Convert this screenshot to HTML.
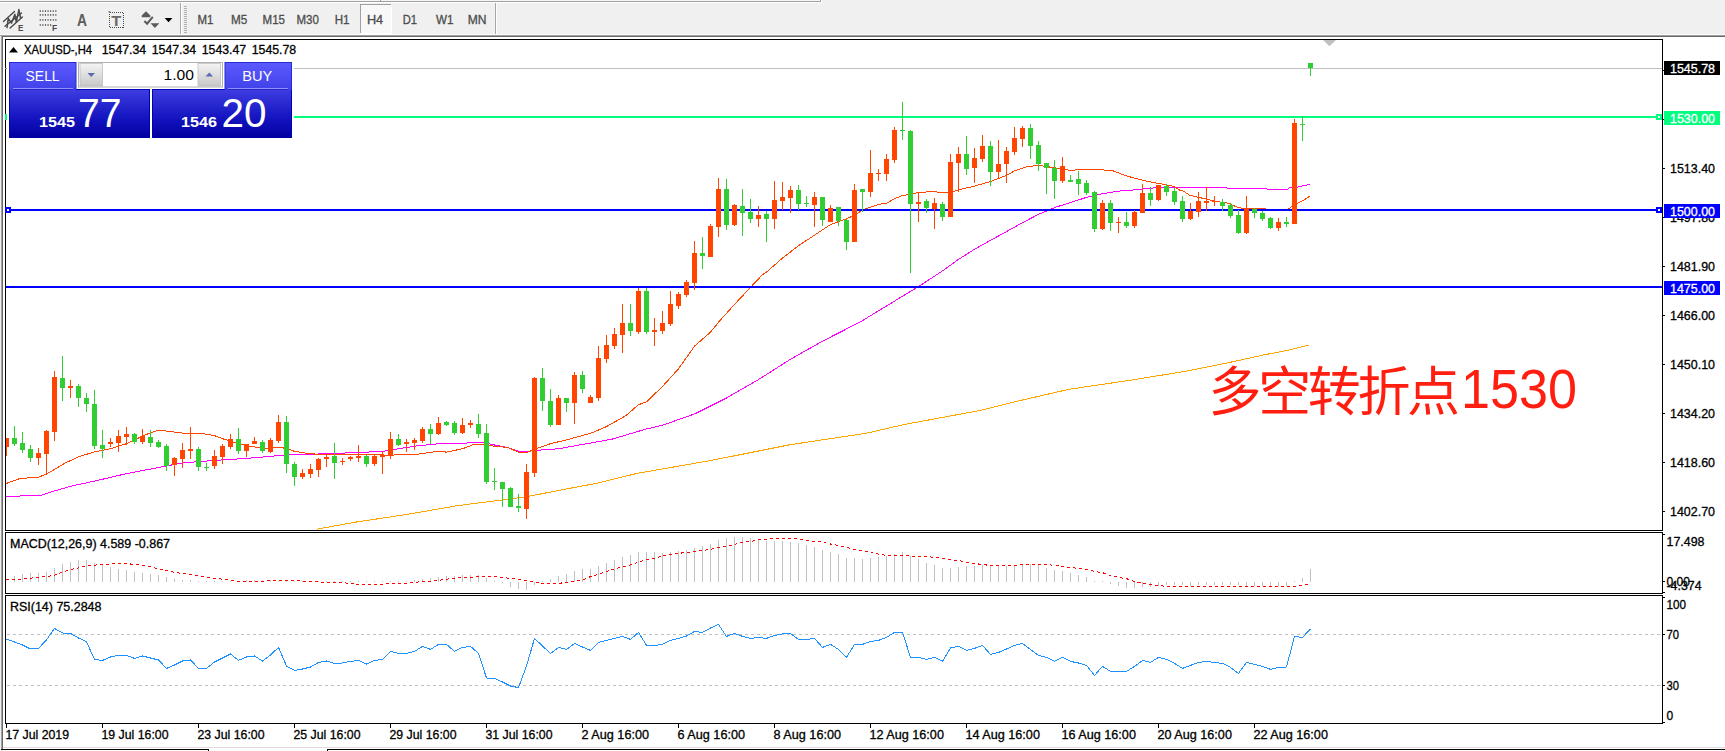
<!DOCTYPE html>
<html lang="zh"><head><meta charset="utf-8"><title>XAUUSD H4</title>
<style>html,body{margin:0;padding:0;background:#f0f0f0;overflow:hidden}svg{display:block}text{white-space:pre}</style></head>
<body><svg width="1725" height="751" viewBox="0 0 1725 751" font-family="'Liberation Sans', sans-serif" font-size="12">
<rect x="0" y="0" width="1725" height="751" fill="#f0f0f0" />
<rect x="0" y="0" width="820" height="1" fill="#f6f6f6" />
<rect x="0" y="1" width="821" height="1" fill="#a0a0a0" />
<rect x="820" y="0" width="1" height="2" fill="#a0a0a0" />
<rect x="0" y="2" width="822" height="1" fill="#ffffff" />
<rect x="821" y="0" width="1" height="3" fill="#ffffff" />
<rect x="380" y="0" width="1" height="1" fill="#a0a0a0" />
<rect x="3" y="37" width="1722" height="714" fill="#ffffff" />
<rect x="0" y="34" width="1725" height="1" fill="#fbfbfb" />
<rect x="0" y="35" width="1725" height="1" fill="#a0a0a0" />
<rect x="1" y="36" width="1725" height="1" fill="#696969" />
<rect x="1" y="36" width="1" height="713" fill="#a0a0a0" />
<rect x="2" y="37" width="1" height="712" fill="#696969" />
<rect x="0" y="36" width="1" height="715" fill="#f0f0f0" />
<rect x="3" y="747" width="1725" height="1" fill="#dcdcdc" />
<rect x="1" y="749" width="208" height="1" fill="#000" />
<rect x="208" y="749" width="1" height="2" fill="#000" />
<rect x="327" y="749" width="1398" height="1" fill="#000" />
<rect x="327" y="749" width="1" height="2" fill="#000" />
<g shape-rendering="crispEdges">
<rect x="5" y="39" width="1658" height="1" fill="#000" />
<rect x="5" y="530" width="1658" height="1" fill="#000" />
<rect x="5" y="39" width="1" height="492" fill="#000" />
<rect x="1662" y="39" width="1" height="492" fill="#000" />
<rect x="5" y="532" width="1658" height="1" fill="#000" />
<rect x="5" y="593" width="1658" height="1" fill="#000" />
<rect x="5" y="532" width="1" height="62" fill="#000" />
<rect x="1662" y="532" width="1" height="62" fill="#000" />
<rect x="5" y="595" width="1658" height="1" fill="#000" />
<rect x="5" y="723" width="1658" height="1" fill="#000" />
<rect x="5" y="595" width="1" height="129" fill="#000" />
<rect x="1662" y="595" width="1" height="129" fill="#000" />
<line x1="7" y1="634.5" x2="1662" y2="634.5" stroke="#c0c0c0" stroke-width="1" stroke-dasharray="3 3"/>
<line x1="7" y1="685.5" x2="1662" y2="685.5" stroke="#c0c0c0" stroke-width="1" stroke-dasharray="3 3"/>
<rect x="14" y="576" width="1" height="6" fill="#c0c0c0" />
<rect x="22" y="574" width="1" height="8" fill="#c0c0c0" />
<rect x="30" y="573" width="1" height="9" fill="#c0c0c0" />
<rect x="38" y="573" width="1" height="9" fill="#c0c0c0" />
<rect x="46" y="572" width="1" height="10" fill="#c0c0c0" />
<rect x="54" y="568" width="1" height="14" fill="#c0c0c0" />
<rect x="62" y="564" width="1" height="18" fill="#c0c0c0" />
<rect x="70" y="562" width="1" height="20" fill="#c0c0c0" />
<rect x="78" y="560" width="1" height="22" fill="#c0c0c0" />
<rect x="86" y="560" width="1" height="22" fill="#c0c0c0" />
<rect x="94" y="563" width="1" height="19" fill="#c0c0c0" />
<rect x="102" y="565" width="1" height="17" fill="#c0c0c0" />
<rect x="110" y="567" width="1" height="15" fill="#c0c0c0" />
<rect x="118" y="569" width="1" height="13" fill="#c0c0c0" />
<rect x="126" y="570" width="1" height="12" fill="#c0c0c0" />
<rect x="134" y="572" width="1" height="10" fill="#c0c0c0" />
<rect x="142" y="573" width="1" height="9" fill="#c0c0c0" />
<rect x="150" y="574" width="1" height="8" fill="#c0c0c0" />
<rect x="158" y="575" width="1" height="7" fill="#c0c0c0" />
<rect x="166" y="577" width="1" height="5" fill="#c0c0c0" />
<rect x="174" y="579" width="1" height="3" fill="#c0c0c0" />
<rect x="182" y="580" width="1" height="2" fill="#c0c0c0" />
<rect x="190" y="580" width="1" height="2" fill="#c0c0c0" />
<rect x="198" y="581" width="1" height="1" fill="#c0c0c0" />
<rect x="206" y="581" width="1" height="1" fill="#c0c0c0" />
<rect x="214" y="581" width="1" height="1" fill="#c0c0c0" />
<rect x="222" y="581" width="1" height="1" fill="#c0c0c0" />
<rect x="230" y="581" width="1" height="1" fill="#c0c0c0" />
<rect x="238" y="581" width="1" height="1" fill="#c0c0c0" />
<rect x="246" y="580" width="1" height="2" fill="#c0c0c0" />
<rect x="254" y="580" width="1" height="2" fill="#c0c0c0" />
<rect x="262" y="580" width="1" height="2" fill="#c0c0c0" />
<rect x="270" y="580" width="1" height="2" fill="#c0c0c0" />
<rect x="278" y="581" width="1" height="1" fill="#c0c0c0" />
<rect x="286" y="581" width="1" height="1" fill="#c0c0c0" />
<rect x="294" y="581" width="1" height="1" fill="#c0c0c0" />
<rect x="302" y="581" width="1" height="1" fill="#c0c0c0" />
<rect x="310" y="581" width="1" height="1" fill="#c0c0c0" />
<rect x="318" y="581" width="1" height="1" fill="#c0c0c0" />
<rect x="326" y="581" width="1" height="1" fill="#c0c0c0" />
<rect x="334" y="581" width="1" height="1" fill="#c0c0c0" />
<rect x="342" y="581" width="1" height="1" fill="#c0c0c0" />
<rect x="350" y="581" width="1" height="1" fill="#c0c0c0" />
<rect x="358" y="581" width="1" height="1" fill="#c0c0c0" />
<rect x="366" y="581" width="1" height="1" fill="#c0c0c0" />
<rect x="374" y="581" width="1" height="1" fill="#c0c0c0" />
<rect x="382" y="581" width="1" height="1" fill="#c0c0c0" />
<rect x="390" y="581" width="1" height="1" fill="#c0c0c0" />
<rect x="398" y="581" width="1" height="1" fill="#c0c0c0" />
<rect x="406" y="581" width="1" height="1" fill="#c0c0c0" />
<rect x="414" y="580" width="1" height="2" fill="#c0c0c0" />
<rect x="422" y="579" width="1" height="3" fill="#c0c0c0" />
<rect x="430" y="578" width="1" height="4" fill="#c0c0c0" />
<rect x="438" y="577" width="1" height="5" fill="#c0c0c0" />
<rect x="446" y="576" width="1" height="6" fill="#c0c0c0" />
<rect x="454" y="576" width="1" height="6" fill="#c0c0c0" />
<rect x="462" y="575" width="1" height="7" fill="#c0c0c0" />
<rect x="470" y="575" width="1" height="7" fill="#c0c0c0" />
<rect x="478" y="575" width="1" height="7" fill="#c0c0c0" />
<rect x="486" y="578" width="1" height="4" fill="#c0c0c0" />
<rect x="494" y="581" width="1" height="1" fill="#c0c0c0" />
<rect x="502" y="582" width="1" height="1" fill="#c0c0c0" />
<rect x="510" y="582" width="1" height="5" fill="#c0c0c0" />
<rect x="518" y="582" width="1" height="7" fill="#c0c0c0" />
<rect x="526" y="582" width="1" height="8" fill="#c0c0c0" />
<rect x="534" y="582" width="1" height="3" fill="#c0c0c0" />
<rect x="542" y="581" width="1" height="1" fill="#c0c0c0" />
<rect x="550" y="579" width="1" height="3" fill="#c0c0c0" />
<rect x="558" y="576" width="1" height="6" fill="#c0c0c0" />
<rect x="566" y="574" width="1" height="8" fill="#c0c0c0" />
<rect x="574" y="571" width="1" height="11" fill="#c0c0c0" />
<rect x="582" y="569" width="1" height="13" fill="#c0c0c0" />
<rect x="590" y="569" width="1" height="13" fill="#c0c0c0" />
<rect x="598" y="566" width="1" height="16" fill="#c0c0c0" />
<rect x="606" y="563" width="1" height="19" fill="#c0c0c0" />
<rect x="614" y="560" width="1" height="22" fill="#c0c0c0" />
<rect x="622" y="557" width="1" height="25" fill="#c0c0c0" />
<rect x="630" y="555" width="1" height="27" fill="#c0c0c0" />
<rect x="638" y="552" width="1" height="30" fill="#c0c0c0" />
<rect x="646" y="552" width="1" height="30" fill="#c0c0c0" />
<rect x="654" y="552" width="1" height="30" fill="#c0c0c0" />
<rect x="662" y="553" width="1" height="29" fill="#c0c0c0" />
<rect x="670" y="552" width="1" height="30" fill="#c0c0c0" />
<rect x="678" y="551" width="1" height="31" fill="#c0c0c0" />
<rect x="686" y="550" width="1" height="32" fill="#c0c0c0" />
<rect x="694" y="548" width="1" height="34" fill="#c0c0c0" />
<rect x="702" y="546" width="1" height="36" fill="#c0c0c0" />
<rect x="710" y="544" width="1" height="38" fill="#c0c0c0" />
<rect x="718" y="540" width="1" height="42" fill="#c0c0c0" />
<rect x="726" y="538" width="1" height="44" fill="#c0c0c0" />
<rect x="734" y="537" width="1" height="45" fill="#c0c0c0" />
<rect x="742" y="537" width="1" height="45" fill="#c0c0c0" />
<rect x="750" y="538" width="1" height="44" fill="#c0c0c0" />
<rect x="758" y="539" width="1" height="43" fill="#c0c0c0" />
<rect x="766" y="541" width="1" height="41" fill="#c0c0c0" />
<rect x="774" y="541" width="1" height="41" fill="#c0c0c0" />
<rect x="782" y="541" width="1" height="41" fill="#c0c0c0" />
<rect x="790" y="542" width="1" height="40" fill="#c0c0c0" />
<rect x="798" y="543" width="1" height="39" fill="#c0c0c0" />
<rect x="806" y="545" width="1" height="37" fill="#c0c0c0" />
<rect x="814" y="547" width="1" height="35" fill="#c0c0c0" />
<rect x="822" y="550" width="1" height="32" fill="#c0c0c0" />
<rect x="830" y="552" width="1" height="30" fill="#c0c0c0" />
<rect x="838" y="554" width="1" height="28" fill="#c0c0c0" />
<rect x="846" y="558" width="1" height="24" fill="#c0c0c0" />
<rect x="854" y="558" width="1" height="24" fill="#c0c0c0" />
<rect x="862" y="559" width="1" height="23" fill="#c0c0c0" />
<rect x="870" y="558" width="1" height="24" fill="#c0c0c0" />
<rect x="878" y="557" width="1" height="25" fill="#c0c0c0" />
<rect x="886" y="556" width="1" height="26" fill="#c0c0c0" />
<rect x="894" y="554" width="1" height="28" fill="#c0c0c0" />
<rect x="902" y="552" width="1" height="30" fill="#c0c0c0" />
<rect x="910" y="556" width="1" height="26" fill="#c0c0c0" />
<rect x="918" y="559" width="1" height="23" fill="#c0c0c0" />
<rect x="926" y="563" width="1" height="19" fill="#c0c0c0" />
<rect x="934" y="565" width="1" height="17" fill="#c0c0c0" />
<rect x="942" y="568" width="1" height="14" fill="#c0c0c0" />
<rect x="950" y="568" width="1" height="14" fill="#c0c0c0" />
<rect x="958" y="567" width="1" height="15" fill="#c0c0c0" />
<rect x="966" y="566" width="1" height="16" fill="#c0c0c0" />
<rect x="974" y="566" width="1" height="16" fill="#c0c0c0" />
<rect x="982" y="565" width="1" height="17" fill="#c0c0c0" />
<rect x="990" y="566" width="1" height="16" fill="#c0c0c0" />
<rect x="998" y="566" width="1" height="16" fill="#c0c0c0" />
<rect x="1006" y="566" width="1" height="16" fill="#c0c0c0" />
<rect x="1014" y="566" width="1" height="16" fill="#c0c0c0" />
<rect x="1022" y="565" width="1" height="17" fill="#c0c0c0" />
<rect x="1030" y="564" width="1" height="18" fill="#c0c0c0" />
<rect x="1038" y="565" width="1" height="17" fill="#c0c0c0" />
<rect x="1046" y="568" width="1" height="14" fill="#c0c0c0" />
<rect x="1054" y="570" width="1" height="12" fill="#c0c0c0" />
<rect x="1062" y="571" width="1" height="11" fill="#c0c0c0" />
<rect x="1070" y="573" width="1" height="9" fill="#c0c0c0" />
<rect x="1078" y="575" width="1" height="7" fill="#c0c0c0" />
<rect x="1086" y="577" width="1" height="5" fill="#c0c0c0" />
<rect x="1094" y="581" width="1" height="1" fill="#c0c0c0" />
<rect x="1102" y="581" width="1" height="1" fill="#c0c0c0" />
<rect x="1110" y="582" width="1" height="2" fill="#c0c0c0" />
<rect x="1118" y="582" width="1" height="4" fill="#c0c0c0" />
<rect x="1126" y="582" width="1" height="6" fill="#c0c0c0" />
<rect x="1134" y="582" width="1" height="6" fill="#c0c0c0" />
<rect x="1142" y="582" width="1" height="5" fill="#c0c0c0" />
<rect x="1150" y="582" width="1" height="5" fill="#c0c0c0" />
<rect x="1158" y="582" width="1" height="4" fill="#c0c0c0" />
<rect x="1166" y="582" width="1" height="3" fill="#c0c0c0" />
<rect x="1174" y="582" width="1" height="3" fill="#c0c0c0" />
<rect x="1182" y="582" width="1" height="3" fill="#c0c0c0" />
<rect x="1190" y="582" width="1" height="4" fill="#c0c0c0" />
<rect x="1198" y="582" width="1" height="3" fill="#c0c0c0" />
<rect x="1206" y="582" width="1" height="3" fill="#c0c0c0" />
<rect x="1214" y="582" width="1" height="3" fill="#c0c0c0" />
<rect x="1222" y="582" width="1" height="3" fill="#c0c0c0" />
<rect x="1230" y="582" width="1" height="3" fill="#c0c0c0" />
<rect x="1238" y="582" width="1" height="3" fill="#c0c0c0" />
<rect x="1246" y="582" width="1" height="4" fill="#c0c0c0" />
<rect x="1254" y="582" width="1" height="4" fill="#c0c0c0" />
<rect x="1262" y="582" width="1" height="4" fill="#c0c0c0" />
<rect x="1270" y="582" width="1" height="5" fill="#c0c0c0" />
<rect x="1278" y="582" width="1" height="4" fill="#c0c0c0" />
<rect x="1286" y="582" width="1" height="4" fill="#c0c0c0" />
<rect x="1294" y="581" width="1" height="1" fill="#c0c0c0" />
<rect x="1302" y="578" width="1" height="4" fill="#c0c0c0" />
<rect x="1310" y="569" width="1" height="13" fill="#c0c0c0" />
</g>
<g shape-rendering="crispEdges">
<polyline points="316.7,529.2 355.9,522.1 406.5,514.5 457.1,505.7 502.6,499.9 526.4,496.8 558.2,490.5 598.3,483.0 636.5,473.5 713.0,460.1 789.6,444.8 866.1,433.3 904.3,424.5 980.9,410.3 1019.1,400.8 1068.9,389.3 1133.9,379.7 1187.5,370.9 1190.0,370.4 1226.5,363.1 1263.0,355.1 1292.3,349.3 1309.3,344.9" fill="none" stroke="#ffa500" stroke-width="1" />
<polyline points="5.6,496.6 41.7,495.1 54.4,491.0 70.8,486.2 94.6,481.1 126.5,473.6 158.6,467.5 182.4,462.9 214.5,460.4 246.4,458.4 270.4,456.4 280.0,455.3 310.4,454.3 334.4,453.3 358.4,452.6 382.4,451.3 390.5,450.5 398.4,448.8 414.6,446.2 438.6,443.7 462.4,443.2 482.4,442.4 494.5,445.0 507.7,447.5 518.5,451.3 527.9,451.3 534.5,450.5 558.2,448.8 611.9,439.2 646.0,429.1 662.4,425.3 694.6,413.9 726.4,398.0 758.6,379.5 790.4,359.3 822.6,341.1 860.0,322.1 922.3,284.2 942.6,270.8 958.5,259.4 974.4,249.3 990.4,240.4 1006.5,231.6 1022.5,222.7 1038.4,214.4 1054.6,207.6 1070.5,202.5 1086.5,197.4 1102.4,193.7 1118.6,191.1 1134.5,189.9 1150.5,188.1 1174.5,187.3 1186.0,187.5 1225.6,187.3 1228.0,188.5 1266.0,188.5 1268.0,189.6 1287.0,189.6 1289.0,188.0 1298.4,187.0 1304.0,185.6 1309.5,184.4" fill="none" stroke="#ff00ff" stroke-width="1" />
<polyline points="5.6,483.7 20.2,478.4 37.9,477.4 46.5,474.1 54.4,469.5 65.8,462.7 78.4,456.9 94.6,451.8 110.5,448.8 126.5,443.7 142.4,436.1 151.8,432.3 158.6,430.1 166.4,431.1 182.4,433.1 202.4,433.6 214.5,435.6 222.6,438.7 230.4,441.2 246.4,445.7 262.6,448.3 278.5,447.5 286.3,448.3 294.4,451.3 310.4,453.8 326.5,454.6 358.4,454.6 390.5,455.1 416.6,454.3 438.6,451.3 446.4,452.1 462.4,448.8 472.2,445.0 482.4,444.2 494.5,446.2 507.7,447.5 518.5,452.1 527.9,452.1 534.5,449.3 550.4,443.7 566.3,439.9 568.9,439.2 590.4,433.4 606.5,426.6 625.8,415.7 638.4,404.8 646.5,401.8 662.4,386.6 678.4,368.9 694.6,346.1 710.5,332.2 718.6,322.1 734.5,304.4 750.5,287.4 753.4,284.2 762.4,274.8 766.5,272.1 782.4,258.2 798.4,245.8 814.6,235.1 830.5,224.5 846.4,218.9 854.5,215.2 862.4,210.1 878.6,204.3 886.4,203.3 894.5,198.7 902.6,195.4 910.4,194.4 918.5,192.4 934.5,191.6 942.6,192.9 950.4,192.4 958.5,189.9 974.4,186.1 990.4,181.5 1006.5,175.4 1014.4,170.9 1025.8,167.1 1038.4,165.3 1054.6,167.8 1070.5,170.4 1086.5,169.1 1111.8,170.4 1126.4,175.9 1142.4,180.2 1158.6,183.5 1166.4,184.8 1174.5,186.6 1180.0,190.3 1182.6,190.6 1189.3,195.0 1198.6,197.3 1208.0,199.6 1217.3,201.5 1228.5,203.3 1237.8,207.5 1244.3,208.5 1264.8,208.5 1267.0,210.0 1286.0,210.0 1289.0,208.5 1291.8,206.6 1297.4,203.3 1304.0,200.1 1309.5,196.2" fill="none" stroke="#ff4500" stroke-width="1" />
<rect x="294" y="68" width="1368" height="1" fill="#c0c0c0" />
<rect x="5" y="68" width="2" height="1" fill="#909090" />
<rect x="5" y="114" width="2" height="6" fill="#00ff7f" />
<rect x="294" y="116" width="1368" height="2" fill="#00ff7f" />
<rect x="6" y="209" width="1656" height="2" fill="#0000ff" />
<rect x="6" y="286" width="1656" height="2" fill="#0000ff" />
<rect x="6" y="438" width="1" height="18" fill="#ff4500" />
<rect x="6" y="438" width="3" height="9" fill="#ff4500" />
<rect x="14" y="426" width="1" height="20" fill="#32cd32" />
<rect x="12" y="438" width="5" height="6" fill="#32cd32" />
<rect x="22" y="432" width="1" height="21" fill="#32cd32" />
<rect x="20" y="443" width="5" height="7" fill="#32cd32" />
<rect x="30" y="445" width="1" height="17" fill="#32cd32" />
<rect x="28" y="449" width="5" height="9" fill="#32cd32" />
<rect x="38" y="448" width="1" height="17" fill="#ff4500" />
<rect x="36" y="453" width="5" height="5" fill="#ff4500" />
<rect x="46" y="430" width="1" height="44" fill="#ff4500" />
<rect x="44" y="431" width="5" height="23" fill="#ff4500" />
<rect x="54" y="371" width="1" height="70" fill="#ff4500" />
<rect x="52" y="377" width="5" height="55" fill="#ff4500" />
<rect x="62" y="356" width="1" height="45" fill="#32cd32" />
<rect x="60" y="378" width="5" height="10" fill="#32cd32" />
<rect x="70" y="380" width="1" height="18" fill="#ff4500" />
<rect x="68" y="386" width="5" height="2" fill="#ff4500" />
<rect x="78" y="384" width="1" height="23" fill="#32cd32" />
<rect x="76" y="386" width="5" height="12" fill="#32cd32" />
<rect x="86" y="393" width="1" height="19" fill="#32cd32" />
<rect x="84" y="398" width="5" height="6" fill="#32cd32" />
<rect x="94" y="390" width="1" height="59" fill="#32cd32" />
<rect x="92" y="404" width="5" height="42" fill="#32cd32" />
<rect x="102" y="430" width="1" height="28" fill="#32cd32" />
<rect x="100" y="445" width="5" height="4" fill="#32cd32" />
<rect x="110" y="438" width="1" height="9" fill="#ff4500" />
<rect x="108" y="442" width="5" height="2" fill="#ff4500" />
<rect x="118" y="430" width="1" height="22" fill="#ff4500" />
<rect x="116" y="436" width="5" height="7" fill="#ff4500" />
<rect x="126" y="427" width="1" height="18" fill="#ff4500" />
<rect x="124" y="434" width="5" height="3" fill="#ff4500" />
<rect x="134" y="433" width="1" height="11" fill="#32cd32" />
<rect x="132" y="434" width="5" height="8" fill="#32cd32" />
<rect x="142" y="429" width="1" height="15" fill="#ff4500" />
<rect x="140" y="436" width="5" height="6" fill="#ff4500" />
<rect x="150" y="430" width="1" height="17" fill="#32cd32" />
<rect x="148" y="437" width="5" height="6" fill="#32cd32" />
<rect x="158" y="440" width="1" height="8" fill="#32cd32" />
<rect x="156" y="442" width="5" height="5" fill="#32cd32" />
<rect x="166" y="444" width="1" height="27" fill="#32cd32" />
<rect x="164" y="446" width="5" height="20" fill="#32cd32" />
<rect x="174" y="457" width="1" height="19" fill="#ff4500" />
<rect x="172" y="458" width="5" height="7" fill="#ff4500" />
<rect x="182" y="443" width="1" height="25" fill="#ff4500" />
<rect x="180" y="450" width="5" height="9" fill="#ff4500" />
<rect x="190" y="427" width="1" height="32" fill="#ff4500" />
<rect x="188" y="449" width="5" height="2" fill="#ff4500" />
<rect x="198" y="447" width="1" height="24" fill="#32cd32" />
<rect x="196" y="449" width="5" height="18" fill="#32cd32" />
<rect x="206" y="463" width="1" height="8" fill="#32cd32" />
<rect x="204" y="467" width="5" height="1" fill="#32cd32" />
<rect x="214" y="450" width="1" height="19" fill="#ff4500" />
<rect x="212" y="456" width="5" height="10" fill="#ff4500" />
<rect x="222" y="444" width="1" height="20" fill="#ff4500" />
<rect x="220" y="446" width="5" height="11" fill="#ff4500" />
<rect x="230" y="434" width="1" height="15" fill="#ff4500" />
<rect x="228" y="439" width="5" height="8" fill="#ff4500" />
<rect x="238" y="428" width="1" height="26" fill="#32cd32" />
<rect x="236" y="439" width="5" height="12" fill="#32cd32" />
<rect x="246" y="444" width="1" height="13" fill="#ff4500" />
<rect x="244" y="444" width="5" height="7" fill="#ff4500" />
<rect x="254" y="437" width="1" height="7" fill="#ff4500" />
<rect x="252" y="441" width="5" height="3" fill="#ff4500" />
<rect x="262" y="440" width="1" height="13" fill="#32cd32" />
<rect x="260" y="442" width="5" height="9" fill="#32cd32" />
<rect x="270" y="438" width="1" height="15" fill="#ff4500" />
<rect x="268" y="440" width="5" height="12" fill="#ff4500" />
<rect x="278" y="415" width="1" height="28" fill="#ff4500" />
<rect x="276" y="422" width="5" height="19" fill="#ff4500" />
<rect x="286" y="416" width="1" height="57" fill="#32cd32" />
<rect x="284" y="422" width="5" height="42" fill="#32cd32" />
<rect x="294" y="462" width="1" height="24" fill="#32cd32" />
<rect x="292" y="464" width="5" height="13" fill="#32cd32" />
<rect x="302" y="469" width="1" height="10" fill="#ff4500" />
<rect x="300" y="473" width="5" height="4" fill="#ff4500" />
<rect x="310" y="464" width="1" height="14" fill="#ff4500" />
<rect x="308" y="469" width="5" height="5" fill="#ff4500" />
<rect x="318" y="458" width="1" height="19" fill="#ff4500" />
<rect x="316" y="459" width="5" height="11" fill="#ff4500" />
<rect x="326" y="454" width="1" height="13" fill="#ff4500" />
<rect x="324" y="457" width="5" height="2" fill="#ff4500" />
<rect x="334" y="443" width="1" height="36" fill="#32cd32" />
<rect x="332" y="456" width="5" height="7" fill="#32cd32" />
<rect x="342" y="458" width="1" height="7" fill="#ff4500" />
<rect x="340" y="461" width="5" height="1" fill="#ff4500" />
<rect x="350" y="456" width="1" height="5" fill="#ff4500" />
<rect x="348" y="457" width="5" height="2" fill="#ff4500" />
<rect x="358" y="445" width="1" height="17" fill="#ff4500" />
<rect x="356" y="456" width="5" height="2" fill="#ff4500" />
<rect x="366" y="455" width="1" height="12" fill="#32cd32" />
<rect x="364" y="456" width="5" height="8" fill="#32cd32" />
<rect x="374" y="455" width="1" height="11" fill="#ff4500" />
<rect x="372" y="456" width="5" height="8" fill="#ff4500" />
<rect x="382" y="451" width="1" height="23" fill="#ff4500" />
<rect x="380" y="455" width="5" height="2" fill="#ff4500" />
<rect x="390" y="432" width="1" height="27" fill="#ff4500" />
<rect x="388" y="439" width="5" height="17" fill="#ff4500" />
<rect x="398" y="434" width="1" height="12" fill="#32cd32" />
<rect x="396" y="439" width="5" height="6" fill="#32cd32" />
<rect x="406" y="439" width="1" height="13" fill="#ff4500" />
<rect x="404" y="442" width="5" height="2" fill="#ff4500" />
<rect x="414" y="438" width="1" height="12" fill="#ff4500" />
<rect x="412" y="440" width="5" height="3" fill="#ff4500" />
<rect x="422" y="427" width="1" height="16" fill="#ff4500" />
<rect x="420" y="429" width="5" height="12" fill="#ff4500" />
<rect x="430" y="424" width="1" height="20" fill="#32cd32" />
<rect x="428" y="429" width="5" height="5" fill="#32cd32" />
<rect x="438" y="417" width="1" height="18" fill="#ff4500" />
<rect x="436" y="423" width="5" height="11" fill="#ff4500" />
<rect x="446" y="421" width="1" height="5" fill="#32cd32" />
<rect x="444" y="422" width="5" height="3" fill="#32cd32" />
<rect x="454" y="421" width="1" height="14" fill="#32cd32" />
<rect x="452" y="423" width="5" height="10" fill="#32cd32" />
<rect x="462" y="418" width="1" height="16" fill="#ff4500" />
<rect x="460" y="425" width="5" height="8" fill="#ff4500" />
<rect x="470" y="420" width="1" height="8" fill="#ff4500" />
<rect x="468" y="423" width="5" height="2" fill="#ff4500" />
<rect x="478" y="414" width="1" height="24" fill="#32cd32" />
<rect x="476" y="424" width="5" height="10" fill="#32cd32" />
<rect x="486" y="424" width="1" height="60" fill="#32cd32" />
<rect x="484" y="433" width="5" height="49" fill="#32cd32" />
<rect x="494" y="468" width="1" height="22" fill="#32cd32" />
<rect x="492" y="481" width="5" height="1" fill="#32cd32" />
<rect x="502" y="482" width="1" height="25" fill="#32cd32" />
<rect x="500" y="482" width="5" height="7" fill="#32cd32" />
<rect x="510" y="487" width="1" height="20" fill="#32cd32" />
<rect x="508" y="488" width="5" height="19" fill="#32cd32" />
<rect x="518" y="494" width="1" height="18" fill="#32cd32" />
<rect x="516" y="506" width="5" height="2" fill="#32cd32" />
<rect x="526" y="464" width="1" height="55" fill="#ff4500" />
<rect x="524" y="472" width="5" height="37" fill="#ff4500" />
<rect x="534" y="377" width="1" height="100" fill="#ff4500" />
<rect x="532" y="378" width="5" height="95" fill="#ff4500" />
<rect x="542" y="368" width="1" height="43" fill="#32cd32" />
<rect x="540" y="378" width="5" height="23" fill="#32cd32" />
<rect x="550" y="389" width="1" height="38" fill="#32cd32" />
<rect x="548" y="401" width="5" height="24" fill="#32cd32" />
<rect x="558" y="395" width="1" height="30" fill="#ff4500" />
<rect x="556" y="398" width="5" height="27" fill="#ff4500" />
<rect x="566" y="398" width="1" height="14" fill="#32cd32" />
<rect x="564" y="398" width="5" height="5" fill="#32cd32" />
<rect x="574" y="372" width="1" height="52" fill="#ff4500" />
<rect x="572" y="375" width="5" height="28" fill="#ff4500" />
<rect x="582" y="371" width="1" height="22" fill="#32cd32" />
<rect x="580" y="375" width="5" height="14" fill="#32cd32" />
<rect x="590" y="395" width="1" height="8" fill="#ff4500" />
<rect x="588" y="397" width="5" height="6" fill="#ff4500" />
<rect x="598" y="346" width="1" height="55" fill="#ff4500" />
<rect x="596" y="358" width="5" height="40" fill="#ff4500" />
<rect x="606" y="335" width="1" height="28" fill="#ff4500" />
<rect x="604" y="345" width="5" height="14" fill="#ff4500" />
<rect x="614" y="328" width="1" height="21" fill="#ff4500" />
<rect x="612" y="334" width="5" height="12" fill="#ff4500" />
<rect x="622" y="304" width="1" height="49" fill="#ff4500" />
<rect x="620" y="323" width="5" height="12" fill="#ff4500" />
<rect x="630" y="304" width="1" height="32" fill="#32cd32" />
<rect x="628" y="323" width="5" height="8" fill="#32cd32" />
<rect x="638" y="288" width="1" height="46" fill="#ff4500" />
<rect x="636" y="291" width="5" height="41" fill="#ff4500" />
<rect x="646" y="288" width="1" height="46" fill="#32cd32" />
<rect x="644" y="291" width="5" height="41" fill="#32cd32" />
<rect x="654" y="318" width="1" height="28" fill="#ff4500" />
<rect x="652" y="330" width="5" height="2" fill="#ff4500" />
<rect x="662" y="311" width="1" height="23" fill="#ff4500" />
<rect x="660" y="323" width="5" height="8" fill="#ff4500" />
<rect x="670" y="291" width="1" height="35" fill="#ff4500" />
<rect x="668" y="304" width="5" height="20" fill="#ff4500" />
<rect x="678" y="292" width="1" height="17" fill="#ff4500" />
<rect x="676" y="294" width="5" height="12" fill="#ff4500" />
<rect x="686" y="280" width="1" height="17" fill="#ff4500" />
<rect x="684" y="282" width="5" height="13" fill="#ff4500" />
<rect x="694" y="241" width="1" height="49" fill="#ff4500" />
<rect x="692" y="253" width="5" height="30" fill="#ff4500" />
<rect x="702" y="237" width="1" height="32" fill="#32cd32" />
<rect x="700" y="253" width="5" height="3" fill="#32cd32" />
<rect x="710" y="224" width="1" height="33" fill="#ff4500" />
<rect x="708" y="226" width="5" height="31" fill="#ff4500" />
<rect x="718" y="178" width="1" height="59" fill="#ff4500" />
<rect x="716" y="189" width="5" height="38" fill="#ff4500" />
<rect x="726" y="179" width="1" height="51" fill="#32cd32" />
<rect x="724" y="189" width="5" height="36" fill="#32cd32" />
<rect x="734" y="204" width="1" height="22" fill="#ff4500" />
<rect x="732" y="205" width="5" height="20" fill="#ff4500" />
<rect x="742" y="189" width="1" height="47" fill="#32cd32" />
<rect x="740" y="206" width="5" height="7" fill="#32cd32" />
<rect x="750" y="199" width="1" height="24" fill="#32cd32" />
<rect x="748" y="212" width="5" height="7" fill="#32cd32" />
<rect x="758" y="206" width="1" height="21" fill="#ff4500" />
<rect x="756" y="215" width="5" height="4" fill="#ff4500" />
<rect x="766" y="211" width="1" height="31" fill="#32cd32" />
<rect x="764" y="214" width="5" height="5" fill="#32cd32" />
<rect x="774" y="181" width="1" height="48" fill="#ff4500" />
<rect x="772" y="200" width="5" height="19" fill="#ff4500" />
<rect x="782" y="182" width="1" height="28" fill="#ff4500" />
<rect x="780" y="197" width="5" height="4" fill="#ff4500" />
<rect x="790" y="186" width="1" height="27" fill="#ff4500" />
<rect x="788" y="190" width="5" height="8" fill="#ff4500" />
<rect x="798" y="185" width="1" height="25" fill="#32cd32" />
<rect x="796" y="190" width="5" height="14" fill="#32cd32" />
<rect x="806" y="196" width="1" height="11" fill="#32cd32" />
<rect x="804" y="203" width="5" height="1" fill="#32cd32" />
<rect x="814" y="192" width="1" height="35" fill="#ff4500" />
<rect x="812" y="197" width="5" height="8" fill="#ff4500" />
<rect x="822" y="197" width="1" height="29" fill="#32cd32" />
<rect x="820" y="197" width="5" height="23" fill="#32cd32" />
<rect x="830" y="205" width="1" height="17" fill="#ff4500" />
<rect x="828" y="208" width="5" height="14" fill="#ff4500" />
<rect x="838" y="207" width="1" height="19" fill="#32cd32" />
<rect x="836" y="207" width="5" height="14" fill="#32cd32" />
<rect x="846" y="219" width="1" height="31" fill="#32cd32" />
<rect x="844" y="220" width="5" height="22" fill="#32cd32" />
<rect x="854" y="184" width="1" height="58" fill="#ff4500" />
<rect x="852" y="190" width="5" height="52" fill="#ff4500" />
<rect x="862" y="189" width="1" height="23" fill="#32cd32" />
<rect x="860" y="189" width="5" height="3" fill="#32cd32" />
<rect x="870" y="150" width="1" height="47" fill="#ff4500" />
<rect x="868" y="173" width="5" height="19" fill="#ff4500" />
<rect x="878" y="169" width="1" height="12" fill="#ff4500" />
<rect x="876" y="173" width="5" height="1" fill="#ff4500" />
<rect x="886" y="154" width="1" height="27" fill="#ff4500" />
<rect x="884" y="159" width="5" height="15" fill="#ff4500" />
<rect x="894" y="127" width="1" height="36" fill="#ff4500" />
<rect x="892" y="130" width="5" height="30" fill="#ff4500" />
<rect x="902" y="102" width="1" height="38" fill="#32cd32" />
<rect x="900" y="130" width="5" height="1" fill="#32cd32" />
<rect x="910" y="130" width="1" height="143" fill="#32cd32" />
<rect x="908" y="131" width="5" height="73" fill="#32cd32" />
<rect x="918" y="192" width="1" height="30" fill="#ff4500" />
<rect x="916" y="202" width="5" height="2" fill="#ff4500" />
<rect x="926" y="199" width="1" height="14" fill="#32cd32" />
<rect x="924" y="201" width="5" height="7" fill="#32cd32" />
<rect x="934" y="198" width="1" height="31" fill="#ff4500" />
<rect x="932" y="203" width="5" height="6" fill="#ff4500" />
<rect x="942" y="202" width="1" height="19" fill="#32cd32" />
<rect x="940" y="204" width="5" height="13" fill="#32cd32" />
<rect x="950" y="154" width="1" height="63" fill="#ff4500" />
<rect x="948" y="162" width="5" height="55" fill="#ff4500" />
<rect x="958" y="147" width="1" height="45" fill="#ff4500" />
<rect x="956" y="154" width="5" height="9" fill="#ff4500" />
<rect x="966" y="136" width="1" height="39" fill="#32cd32" />
<rect x="964" y="154" width="5" height="15" fill="#32cd32" />
<rect x="974" y="148" width="1" height="35" fill="#ff4500" />
<rect x="972" y="158" width="5" height="10" fill="#ff4500" />
<rect x="982" y="135" width="1" height="27" fill="#ff4500" />
<rect x="980" y="146" width="5" height="13" fill="#ff4500" />
<rect x="990" y="141" width="1" height="45" fill="#32cd32" />
<rect x="988" y="146" width="5" height="26" fill="#32cd32" />
<rect x="998" y="140" width="1" height="39" fill="#ff4500" />
<rect x="996" y="164" width="5" height="8" fill="#ff4500" />
<rect x="1006" y="147" width="1" height="36" fill="#ff4500" />
<rect x="1004" y="151" width="5" height="13" fill="#ff4500" />
<rect x="1014" y="127" width="1" height="28" fill="#ff4500" />
<rect x="1012" y="138" width="5" height="14" fill="#ff4500" />
<rect x="1022" y="126" width="1" height="21" fill="#ff4500" />
<rect x="1020" y="128" width="5" height="11" fill="#ff4500" />
<rect x="1030" y="124" width="1" height="35" fill="#32cd32" />
<rect x="1028" y="128" width="5" height="18" fill="#32cd32" />
<rect x="1038" y="141" width="1" height="30" fill="#32cd32" />
<rect x="1036" y="145" width="5" height="19" fill="#32cd32" />
<rect x="1046" y="163" width="1" height="31" fill="#32cd32" />
<rect x="1044" y="163" width="5" height="5" fill="#32cd32" />
<rect x="1054" y="160" width="1" height="39" fill="#32cd32" />
<rect x="1052" y="168" width="5" height="13" fill="#32cd32" />
<rect x="1062" y="157" width="1" height="26" fill="#ff4500" />
<rect x="1060" y="166" width="5" height="15" fill="#ff4500" />
<rect x="1070" y="175" width="1" height="7" fill="#32cd32" />
<rect x="1068" y="180" width="5" height="2" fill="#32cd32" />
<rect x="1078" y="171" width="1" height="24" fill="#32cd32" />
<rect x="1076" y="179" width="5" height="5" fill="#32cd32" />
<rect x="1086" y="180" width="1" height="15" fill="#32cd32" />
<rect x="1084" y="183" width="5" height="10" fill="#32cd32" />
<rect x="1094" y="191" width="1" height="41" fill="#32cd32" />
<rect x="1092" y="192" width="5" height="37" fill="#32cd32" />
<rect x="1102" y="200" width="1" height="30" fill="#ff4500" />
<rect x="1100" y="203" width="5" height="26" fill="#ff4500" />
<rect x="1110" y="200" width="1" height="31" fill="#32cd32" />
<rect x="1108" y="203" width="5" height="20" fill="#32cd32" />
<rect x="1118" y="217" width="1" height="16" fill="#ff4500" />
<rect x="1116" y="222" width="5" height="1" fill="#ff4500" />
<rect x="1126" y="212" width="1" height="16" fill="#32cd32" />
<rect x="1124" y="222" width="5" height="4" fill="#32cd32" />
<rect x="1134" y="210" width="1" height="18" fill="#ff4500" />
<rect x="1132" y="212" width="5" height="14" fill="#ff4500" />
<rect x="1142" y="184" width="1" height="29" fill="#ff4500" />
<rect x="1140" y="193" width="5" height="20" fill="#ff4500" />
<rect x="1150" y="187" width="1" height="19" fill="#32cd32" />
<rect x="1148" y="193" width="5" height="7" fill="#32cd32" />
<rect x="1158" y="185" width="1" height="16" fill="#ff4500" />
<rect x="1156" y="185" width="5" height="15" fill="#ff4500" />
<rect x="1166" y="184" width="1" height="12" fill="#32cd32" />
<rect x="1164" y="186" width="5" height="6" fill="#32cd32" />
<rect x="1174" y="188" width="1" height="17" fill="#32cd32" />
<rect x="1172" y="191" width="5" height="11" fill="#32cd32" />
<rect x="1182" y="196" width="1" height="26" fill="#32cd32" />
<rect x="1180" y="201" width="5" height="18" fill="#32cd32" />
<rect x="1190" y="203" width="1" height="17" fill="#ff4500" />
<rect x="1188" y="211" width="5" height="8" fill="#ff4500" />
<rect x="1198" y="192" width="1" height="25" fill="#ff4500" />
<rect x="1196" y="201" width="5" height="11" fill="#ff4500" />
<rect x="1206" y="187" width="1" height="24" fill="#ff4500" />
<rect x="1204" y="201" width="5" height="2" fill="#ff4500" />
<rect x="1214" y="196" width="1" height="10" fill="#ff4500" />
<rect x="1212" y="201" width="5" height="1" fill="#ff4500" />
<rect x="1222" y="199" width="1" height="12" fill="#32cd32" />
<rect x="1220" y="202" width="5" height="4" fill="#32cd32" />
<rect x="1230" y="203" width="1" height="15" fill="#32cd32" />
<rect x="1228" y="205" width="5" height="11" fill="#32cd32" />
<rect x="1238" y="210" width="1" height="24" fill="#32cd32" />
<rect x="1236" y="215" width="5" height="18" fill="#32cd32" />
<rect x="1246" y="196" width="1" height="38" fill="#ff4500" />
<rect x="1244" y="209" width="5" height="24" fill="#ff4500" />
<rect x="1254" y="208" width="1" height="10" fill="#32cd32" />
<rect x="1252" y="209" width="5" height="4" fill="#32cd32" />
<rect x="1262" y="211" width="1" height="10" fill="#32cd32" />
<rect x="1260" y="213" width="5" height="6" fill="#32cd32" />
<rect x="1270" y="217" width="1" height="12" fill="#32cd32" />
<rect x="1268" y="218" width="5" height="10" fill="#32cd32" />
<rect x="1278" y="218" width="1" height="13" fill="#ff4500" />
<rect x="1276" y="222" width="5" height="6" fill="#ff4500" />
<rect x="1286" y="217" width="1" height="10" fill="#32cd32" />
<rect x="1284" y="222" width="5" height="2" fill="#32cd32" />
<rect x="1294" y="119" width="1" height="105" fill="#ff4500" />
<rect x="1292" y="123" width="5" height="101" fill="#ff4500" />
<rect x="1302" y="116" width="1" height="25" fill="#32cd32" />
<rect x="1300" y="124" width="5" height="1" fill="#32cd32" />
<rect x="1310" y="63" width="1" height="13" fill="#32cd32" />
<rect x="1308" y="63" width="5" height="5" fill="#32cd32" />
<polyline points="6.0,580.0 14.4,579.4 22.4,579.0 30.4,578.2 38.4,577.4 46.4,576.6 54.4,575.4 62.4,572.0 70.4,569.6 78.4,568.0 86.4,566.0 94.4,565.2 102.4,564.4 110.4,564.0 118.4,563.4 126.4,563.6 134.4,564.4 142.4,565.4 150.4,566.6 158.4,569.0 166.4,570.6 174.4,572.4 182.4,573.4 190.4,574.4 198.4,576.0 206.4,577.2 214.4,578.2 222.4,579.2 230.4,580.0 238.4,581.2 260.0,581.2 280.0,580.6 300.0,580.6 308.0,581.6 320.0,582.0 340.0,582.4 350.4,583.4 358.4,584.4 382.4,584.4 390.4,583.4 406.4,583.4 414.4,582.4 422.4,581.6 430.4,581.4 438.4,580.4 446.4,579.2 454.4,578.4 462.4,577.4 470.4,577.4 478.4,576.4 494.4,576.4 502.4,577.4 510.4,578.4 518.4,579.4 526.4,580.6 534.4,582.4 542.4,583.4 558.4,583.4 566.4,582.4 574.4,581.2 582.4,580.0 590.4,576.6 598.4,574.4 606.4,571.6 614.4,569.0 622.4,567.0 630.4,565.0 638.4,562.0 646.4,560.0 654.4,558.6 662.4,556.0 670.4,554.6 678.4,553.4 686.4,552.4 694.4,551.4 702.4,550.4 710.4,549.4 718.4,547.4 726.4,546.4 734.4,544.4 742.4,542.4 750.4,541.4 758.4,540.0 766.4,539.4 774.4,538.4 794.0,538.4 806.4,540.0 814.4,541.4 822.4,542.0 830.4,544.0 838.4,545.4 846.4,547.4 854.4,549.4 862.4,550.6 870.4,552.4 878.4,554.0 886.4,555.4 902.4,555.4 910.4,556.0 926.4,556.4 934.4,557.4 942.4,558.4 950.4,559.4 958.4,560.6 966.4,562.0 974.4,563.4 982.4,564.6 990.4,565.4 1014.0,565.4 1022.4,564.4 1030.4,564.4 1038.4,564.4 1046.4,564.4 1054.4,565.4 1062.4,566.4 1070.4,567.4 1078.4,568.4 1086.4,569.4 1094.4,571.4 1102.4,572.6 1110.4,575.4 1118.4,577.4 1126.4,578.6 1134.4,581.4 1142.4,583.4 1150.4,584.4 1158.4,585.4 1166.4,586.4 1295.0,586.4 1302.4,585.4 1310.4,583.4" fill="none" stroke="#ff0000" stroke-width="1" stroke-dasharray="3 3"/>
<polyline points="6.5,639.0 14.5,642.0 22.5,645.0 30.5,649.0 38.5,648.4 46.5,640.0 54.5,628.4 62.5,633.0 70.5,633.4 78.5,638.0 86.5,641.6 94.5,659.4 102.5,660.4 110.5,657.0 118.5,655.4 126.5,655.4 134.5,658.4 142.5,656.0 150.5,658.0 158.5,660.0 166.5,668.4 174.5,665.0 182.5,661.0 190.5,660.0 198.5,668.4 206.5,668.4 214.5,662.0 222.5,658.0 230.5,654.0 238.5,660.4 246.5,657.0 254.5,656.0 262.5,661.0 270.5,655.0 278.5,647.4 286.5,666.0 294.5,670.4 302.5,669.0 310.5,667.0 318.5,662.4 326.5,661.0 334.5,663.4 342.5,663.0 350.5,661.4 358.5,660.4 366.5,664.0 374.5,660.4 382.5,659.4 390.5,651.4 398.5,653.4 406.5,653.4 414.5,651.4 422.5,646.4 430.5,649.4 438.5,644.4 446.5,644.4 454.5,651.4 462.5,647.4 470.5,646.4 478.5,653.4 486.5,678.0 494.5,678.4 502.5,682.0 510.5,686.0 518.5,687.6 526.5,666.0 534.5,638.4 542.5,646.0 550.5,653.4 558.5,647.4 566.5,649.4 574.5,643.4 582.5,647.0 590.5,650.4 598.5,642.4 606.5,640.4 614.5,638.4 622.5,636.4 630.5,639.4 638.5,632.4 646.5,645.4 654.5,645.4 662.5,644.4 670.5,640.4 678.5,638.4 686.5,636.0 694.5,631.4 702.5,632.4 710.5,628.0 718.5,624.4 726.5,636.4 734.5,633.4 742.5,636.4 750.5,638.4 758.5,637.4 766.5,638.4 774.5,635.4 782.5,634.0 790.5,633.4 798.5,639.4 806.5,639.4 814.5,638.4 822.5,647.4 830.5,644.4 838.5,649.4 846.5,657.4 854.5,644.4 862.5,644.4 870.5,641.4 878.5,640.4 886.5,637.4 894.5,632.4 902.5,632.4 910.5,657.4 918.5,657.4 926.5,659.4 934.5,657.4 942.5,661.4 950.5,648.0 958.5,646.4 966.5,650.4 974.5,648.4 982.5,645.4 990.5,654.4 998.5,652.4 1006.5,649.0 1014.5,645.4 1022.5,643.4 1030.5,649.4 1038.5,655.4 1046.5,657.4 1054.5,661.4 1062.5,657.4 1070.5,661.4 1078.5,663.0 1086.5,665.4 1094.5,675.4 1102.5,666.4 1110.5,671.4 1118.5,671.4 1126.5,671.4 1134.5,666.4 1142.5,660.4 1150.5,662.4 1158.5,657.4 1166.5,659.4 1174.5,663.4 1182.5,668.4 1190.5,665.4 1198.5,662.4 1206.5,661.4 1214.5,662.4 1222.5,663.4 1230.5,667.4 1238.5,673.4 1246.5,662.4 1254.5,664.4 1262.5,666.4 1270.5,669.4 1278.5,667.4 1286.5,667.0 1294.5,636.4 1302.5,637.4 1310.5,629.0" fill="none" stroke="#1e90ff" stroke-width="1" />
</g>
<polygon points="1323,40 1336,40 1329.5,46.3" fill="#c0c0c0"/>
<rect x="1656" y="114" width="6" height="6" fill="#00ff7f" shape-rendering="crispEdges"/>
<rect x="1658" y="116" width="2" height="2" fill="#fff" shape-rendering="crispEdges"/>
<rect x="1656" y="207" width="6" height="6" fill="#0000ff" shape-rendering="crispEdges"/>
<rect x="1658" y="209" width="2" height="2" fill="#fff" shape-rendering="crispEdges"/>
<rect x="5" y="207" width="6" height="6" fill="#0000ff" shape-rendering="crispEdges"/>
<rect x="7" y="209" width="2" height="2" fill="#fff" shape-rendering="crispEdges"/>
<rect x="1663" y="70" width="2" height="1" fill="#000" shape-rendering="crispEdges"/>
<rect x="1663" y="119" width="2" height="1" fill="#000" shape-rendering="crispEdges"/>
<rect x="1663" y="168" width="2" height="1" fill="#000" shape-rendering="crispEdges"/>
<text x="1670" y="173" font-size="12" fill="#000" textLength="45" lengthAdjust="spacingAndGlyphs" stroke="#000" stroke-width="0.3" >1513.40</text>
<rect x="1663" y="217" width="2" height="1" fill="#000" shape-rendering="crispEdges"/>
<text x="1670" y="222" font-size="12" fill="#000" textLength="45" lengthAdjust="spacingAndGlyphs" stroke="#000" stroke-width="0.3" >1497.80</text>
<rect x="1663" y="266" width="2" height="1" fill="#000" shape-rendering="crispEdges"/>
<text x="1670" y="271" font-size="12" fill="#000" textLength="45" lengthAdjust="spacingAndGlyphs" stroke="#000" stroke-width="0.3" >1481.90</text>
<rect x="1663" y="315" width="2" height="1" fill="#000" shape-rendering="crispEdges"/>
<text x="1670" y="320" font-size="12" fill="#000" textLength="45" lengthAdjust="spacingAndGlyphs" stroke="#000" stroke-width="0.3" >1466.00</text>
<rect x="1663" y="364" width="2" height="1" fill="#000" shape-rendering="crispEdges"/>
<text x="1670" y="369" font-size="12" fill="#000" textLength="45" lengthAdjust="spacingAndGlyphs" stroke="#000" stroke-width="0.3" >1450.10</text>
<rect x="1663" y="413" width="2" height="1" fill="#000" shape-rendering="crispEdges"/>
<text x="1670" y="418" font-size="12" fill="#000" textLength="45" lengthAdjust="spacingAndGlyphs" stroke="#000" stroke-width="0.3" >1434.20</text>
<rect x="1663" y="462" width="2" height="1" fill="#000" shape-rendering="crispEdges"/>
<text x="1670" y="467" font-size="12" fill="#000" textLength="45" lengthAdjust="spacingAndGlyphs" stroke="#000" stroke-width="0.3" >1418.60</text>
<rect x="1663" y="511" width="2" height="1" fill="#000" shape-rendering="crispEdges"/>
<text x="1670" y="516" font-size="12" fill="#000" textLength="45" lengthAdjust="spacingAndGlyphs" stroke="#000" stroke-width="0.3" >1402.70</text>
<rect x="1664" y="61" width="56" height="14" fill="#000" shape-rendering="crispEdges"/>
<text x="1670" y="73" font-size="12" fill="#fff" textLength="45" lengthAdjust="spacingAndGlyphs" stroke="#fff" stroke-width="0.3" >1545.78</text>
<rect x="1664" y="111" width="56" height="14" fill="#00ff7f" shape-rendering="crispEdges"/>
<text x="1670" y="123" font-size="12" fill="#fff" textLength="45" lengthAdjust="spacingAndGlyphs" stroke="#fff" stroke-width="0.3" >1530.00</text>
<rect x="1664" y="204" width="56" height="14" fill="#0000ff" shape-rendering="crispEdges"/>
<text x="1670" y="216" font-size="12" fill="#fff" textLength="45" lengthAdjust="spacingAndGlyphs" stroke="#fff" stroke-width="0.3" >1500.00</text>
<rect x="1664" y="281" width="56" height="14" fill="#0000ff" shape-rendering="crispEdges"/>
<text x="1670" y="293" font-size="12" fill="#fff" textLength="45" lengthAdjust="spacingAndGlyphs" stroke="#fff" stroke-width="0.3" >1475.00</text>
<text x="1666.5" y="546" font-size="12" fill="#000" textLength="38" lengthAdjust="spacingAndGlyphs" stroke="#000" stroke-width="0.3" >17.498</text>
<text x="1666.5" y="586" font-size="12" fill="#000" textLength="23.5" lengthAdjust="spacingAndGlyphs" stroke="#000" stroke-width="0.3" >0.00</text>
<text x="1666.5" y="590" font-size="12" fill="#000" textLength="35" lengthAdjust="spacingAndGlyphs" stroke="#000" stroke-width="0.3" >-4.374</text>
<rect x="1663" y="581" width="2" height="1" fill="#000" />
<rect x="1663" y="592" width="2" height="1" fill="#000" />
<rect x="1663" y="534" width="2" height="1" fill="#000" />
<text x="1666.5" y="609" font-size="12" fill="#000" textLength="19.5" lengthAdjust="spacingAndGlyphs" stroke="#000" stroke-width="0.3" >100</text>
<text x="1666.5" y="639" font-size="12" fill="#000" textLength="12.5" lengthAdjust="spacingAndGlyphs" stroke="#000" stroke-width="0.3" >70</text>
<text x="1666.5" y="690" font-size="12" fill="#000" textLength="12.5" lengthAdjust="spacingAndGlyphs" stroke="#000" stroke-width="0.3" >30</text>
<text x="1666.5" y="720" font-size="12" fill="#000" stroke="#000" stroke-width="0.3" >0</text>
<rect x="1663" y="597" width="2" height="1" fill="#000" />
<rect x="1663" y="634" width="2" height="1" fill="#000" />
<rect x="1663" y="685" width="2" height="1" fill="#000" />
<rect x="1663" y="722" width="2" height="1" fill="#000" />
<text x="10" y="548" font-size="12" fill="#000" textLength="160" lengthAdjust="spacingAndGlyphs" stroke="#000" stroke-width="0.3" >MACD(12,26,9) 4.589 -0.867</text>
<text x="10" y="611" font-size="12" fill="#000" textLength="91.5" lengthAdjust="spacingAndGlyphs" stroke="#000" stroke-width="0.3" >RSI(14) 75.2848</text>
<rect x="6" y="723" width="1" height="5" fill="#000" shape-rendering="crispEdges"/>
<text x="5.5" y="739" font-size="12" fill="#000" textLength="63.5" lengthAdjust="spacingAndGlyphs" stroke="#000" stroke-width="0.3" >17 Jul 2019</text>
<rect x="102" y="723" width="1" height="5" fill="#000" shape-rendering="crispEdges"/>
<text x="101.5" y="739" font-size="12" fill="#000" textLength="67" lengthAdjust="spacingAndGlyphs" stroke="#000" stroke-width="0.3" >19 Jul 16:00</text>
<rect x="198" y="723" width="1" height="5" fill="#000" shape-rendering="crispEdges"/>
<text x="197.5" y="739" font-size="12" fill="#000" textLength="67" lengthAdjust="spacingAndGlyphs" stroke="#000" stroke-width="0.3" >23 Jul 16:00</text>
<rect x="294" y="723" width="1" height="5" fill="#000" shape-rendering="crispEdges"/>
<text x="293.5" y="739" font-size="12" fill="#000" textLength="67" lengthAdjust="spacingAndGlyphs" stroke="#000" stroke-width="0.3" >25 Jul 16:00</text>
<rect x="390" y="723" width="1" height="5" fill="#000" shape-rendering="crispEdges"/>
<text x="389.5" y="739" font-size="12" fill="#000" textLength="67" lengthAdjust="spacingAndGlyphs" stroke="#000" stroke-width="0.3" >29 Jul 16:00</text>
<rect x="486" y="723" width="1" height="5" fill="#000" shape-rendering="crispEdges"/>
<text x="485.5" y="739" font-size="12" fill="#000" textLength="67" lengthAdjust="spacingAndGlyphs" stroke="#000" stroke-width="0.3" >31 Jul 16:00</text>
<rect x="582" y="723" width="1" height="5" fill="#000" shape-rendering="crispEdges"/>
<text x="581.5" y="739" font-size="12" fill="#000" textLength="67.5" lengthAdjust="spacingAndGlyphs" stroke="#000" stroke-width="0.3" >2 Aug 16:00</text>
<rect x="678" y="723" width="1" height="5" fill="#000" shape-rendering="crispEdges"/>
<text x="677.5" y="739" font-size="12" fill="#000" textLength="67.5" lengthAdjust="spacingAndGlyphs" stroke="#000" stroke-width="0.3" >6 Aug 16:00</text>
<rect x="774" y="723" width="1" height="5" fill="#000" shape-rendering="crispEdges"/>
<text x="773.5" y="739" font-size="12" fill="#000" textLength="67.5" lengthAdjust="spacingAndGlyphs" stroke="#000" stroke-width="0.3" >8 Aug 16:00</text>
<rect x="870" y="723" width="1" height="5" fill="#000" shape-rendering="crispEdges"/>
<text x="869.5" y="739" font-size="12" fill="#000" textLength="74.4" lengthAdjust="spacingAndGlyphs" stroke="#000" stroke-width="0.3" >12 Aug 16:00</text>
<rect x="966" y="723" width="1" height="5" fill="#000" shape-rendering="crispEdges"/>
<text x="965.5" y="739" font-size="12" fill="#000" textLength="74.4" lengthAdjust="spacingAndGlyphs" stroke="#000" stroke-width="0.3" >14 Aug 16:00</text>
<rect x="1062" y="723" width="1" height="5" fill="#000" shape-rendering="crispEdges"/>
<text x="1061.5" y="739" font-size="12" fill="#000" textLength="74.4" lengthAdjust="spacingAndGlyphs" stroke="#000" stroke-width="0.3" >16 Aug 16:00</text>
<rect x="1158" y="723" width="1" height="5" fill="#000" shape-rendering="crispEdges"/>
<text x="1157.5" y="739" font-size="12" fill="#000" textLength="74.4" lengthAdjust="spacingAndGlyphs" stroke="#000" stroke-width="0.3" >20 Aug 16:00</text>
<rect x="1254" y="723" width="1" height="5" fill="#000" shape-rendering="crispEdges"/>
<text x="1253.5" y="739" font-size="12" fill="#000" textLength="74.4" lengthAdjust="spacingAndGlyphs" stroke="#000" stroke-width="0.3" >22 Aug 16:00</text>
<polygon points="9,52.5 18,52.5 13.5,47" fill="#000"/>
<text x="24" y="54" font-size="12" fill="#000" textLength="68" lengthAdjust="spacingAndGlyphs" stroke="#000" stroke-width="0.3" >XAUUSD-,H4</text>
<text x="101.7" y="54" font-size="12" fill="#000" textLength="44.5" lengthAdjust="spacingAndGlyphs" stroke="#000" stroke-width="0.3" >1547.34</text>
<text x="151.7" y="54" font-size="12" fill="#000" textLength="44.5" lengthAdjust="spacingAndGlyphs" stroke="#000" stroke-width="0.3" >1547.34</text>
<text x="201.7" y="54" font-size="12" fill="#000" textLength="44.5" lengthAdjust="spacingAndGlyphs" stroke="#000" stroke-width="0.3" >1543.47</text>
<text x="251.7" y="54" font-size="12" fill="#000" textLength="44.5" lengthAdjust="spacingAndGlyphs" stroke="#000" stroke-width="0.3" >1545.78</text>
<defs>
<linearGradient id="gtop" x1="0" y1="0" x2="0" y2="1"><stop offset="0" stop-color="#5a5aff"/><stop offset="1" stop-color="#4040e8"/></linearGradient>
<linearGradient id="gbot" x1="0" y1="0" x2="0" y2="1"><stop offset="0" stop-color="#3c3ce0"/><stop offset="0.6" stop-color="#1414c0"/><stop offset="1" stop-color="#0000a0"/></linearGradient>
<linearGradient id="gbtn" x1="0" y1="0" x2="0" y2="1"><stop offset="0" stop-color="#f4f4f4"/><stop offset="1" stop-color="#c8c8c8"/></linearGradient>
</defs>
<rect x="7" y="62" width="285" height="76" fill="#ffffff" />
<rect x="9" y="89" width="141" height="49" fill="#0000b4" />
<rect x="152" y="89" width="140" height="49" fill="#0000b4" />
<rect x="10" y="90" width="139" height="47.5" fill="url(#gbot)" />
<rect x="153" y="90" width="138" height="47.5" fill="url(#gbot)" />
<rect x="9" y="62" width="67.5" height="28" fill="#2828d8" />
<rect x="224.5" y="62" width="67.5" height="28" fill="#2828d8" />
<rect x="10" y="63" width="65.5" height="27.5" fill="url(#gtop)" />
<rect x="225.5" y="63" width="65.5" height="27.5" fill="url(#gtop)" />
<rect x="13" y="88" width="60" height="1" fill="#9090ff" />
<rect x="13" y="89" width="60" height="1" fill="#2424c4" />
<rect x="228" y="88" width="60" height="1" fill="#9090ff" />
<rect x="228" y="89" width="60" height="1" fill="#2424c4" />
<rect x="78.5" y="62.5" width="144" height="24.5" fill="#ffffff" stroke="#b0b0b0" stroke-width="1"/>
<rect x="80" y="63.5" width="22.5" height="22.5" fill="url(#gbtn)" stroke="#b8b8b8" stroke-width="0.7"/>
<rect x="198" y="63.5" width="22.5" height="22.5" fill="url(#gbtn)" stroke="#b8b8b8" stroke-width="0.7"/>
<polygon points="87.5,73 95,73 91.25,77" fill="#5a6ab8"/>
<polygon points="205.5,76.5 213,76.5 209.25,72.5" fill="#5a6ab8"/>
<text x="163.5" y="79.6" font-size="15" fill="#000" textLength="30.5" lengthAdjust="spacingAndGlyphs" >1.00</text>
<text x="25.6" y="81" font-size="15.5" fill="#fff" textLength="34" lengthAdjust="spacingAndGlyphs" >SELL</text>
<text x="242.3" y="81" font-size="15.5" fill="#fff" textLength="30" lengthAdjust="spacingAndGlyphs" >BUY</text>
<text x="39" y="126.5" font-size="15.5" fill="#fff" textLength="36" lengthAdjust="spacingAndGlyphs" font-weight="bold" >1545</text>
<text x="181" y="126.5" font-size="15.5" fill="#fff" textLength="36" lengthAdjust="spacingAndGlyphs" font-weight="bold" >1546</text>
<text x="78" y="126.5" font-size="40.5" fill="#fff" textLength="43.5" lengthAdjust="spacingAndGlyphs" >77</text>
<text x="221.5" y="126.5" font-size="40.5" fill="#fff" textLength="45" lengthAdjust="spacingAndGlyphs" >20</text>
<text x="1208.5" y="411" font-size="53" fill="#ff1e0f" letter-spacing="-3.35" font-family="'Liberation Sans', 'Noto Sans CJK SC', sans-serif">多空转折点</text>
<text x="1461" y="407.5" font-size="55" fill="#ff1e0f" textLength="116" lengthAdjust="spacingAndGlyphs" font-family="'Liberation Sans', 'Noto Sans CJK SC', sans-serif">1530</text>
<rect x="180" y="3" width="1" height="31" fill="#a8a8a8" />
<rect x="181" y="3" width="1" height="31" fill="#fff" />
<rect x="495" y="3" width="1" height="31" fill="#a8a8a8" />
<rect x="496" y="3" width="1" height="31" fill="#fff" />
<rect x="184" y="6" width="3" height="1" fill="#b0b0b0" />
<rect x="184" y="8" width="3" height="1" fill="#b0b0b0" />
<rect x="184" y="10" width="3" height="1" fill="#b0b0b0" />
<rect x="184" y="12" width="3" height="1" fill="#b0b0b0" />
<rect x="184" y="14" width="3" height="1" fill="#b0b0b0" />
<rect x="184" y="16" width="3" height="1" fill="#b0b0b0" />
<rect x="184" y="18" width="3" height="1" fill="#b0b0b0" />
<rect x="184" y="20" width="3" height="1" fill="#b0b0b0" />
<rect x="184" y="22" width="3" height="1" fill="#b0b0b0" />
<rect x="184" y="24" width="3" height="1" fill="#b0b0b0" />
<rect x="184" y="26" width="3" height="1" fill="#b0b0b0" />
<rect x="184" y="28" width="3" height="1" fill="#b0b0b0" />
<rect x="184" y="30" width="3" height="1" fill="#b0b0b0" />
<rect x="184" y="32" width="3" height="1" fill="#b0b0b0" />
<rect x="361" y="5" width="30" height="28" fill="#f8f8f8" />
<rect x="360" y="4" width="31" height="1" fill="#a0a0a0" />
<rect x="360" y="4" width="1" height="29" fill="#a0a0a0" />
<rect x="391" y="4" width="1" height="30" fill="#ffffff" />
<rect x="360" y="33" width="32" height="1" fill="#ffffff" />
<text x="197.4" y="24" font-size="12" fill="#4d4d4d" textLength="15.9" lengthAdjust="spacingAndGlyphs" stroke="#4d4d4d" stroke-width="0.3" >M1</text>
<text x="231.0" y="24" font-size="12" fill="#4d4d4d" textLength="16.3" lengthAdjust="spacingAndGlyphs" stroke="#4d4d4d" stroke-width="0.3" >M5</text>
<text x="262.6" y="24" font-size="12" fill="#4d4d4d" textLength="22.4" lengthAdjust="spacingAndGlyphs" stroke="#4d4d4d" stroke-width="0.3" >M15</text>
<text x="296.5" y="24" font-size="12" fill="#4d4d4d" textLength="22.4" lengthAdjust="spacingAndGlyphs" stroke="#4d4d4d" stroke-width="0.3" >M30</text>
<text x="334.7" y="24" font-size="12" fill="#4d4d4d" textLength="14.8" lengthAdjust="spacingAndGlyphs" stroke="#4d4d4d" stroke-width="0.3" >H1</text>
<text x="366.9" y="24" font-size="12" fill="#4d4d4d" textLength="16.3" lengthAdjust="spacingAndGlyphs" stroke="#4d4d4d" stroke-width="0.3" >H4</text>
<text x="402.7" y="24" font-size="12" fill="#4d4d4d" textLength="14.3" lengthAdjust="spacingAndGlyphs" stroke="#4d4d4d" stroke-width="0.3" >D1</text>
<text x="436.0" y="24" font-size="12" fill="#4d4d4d" textLength="17.4" lengthAdjust="spacingAndGlyphs" stroke="#4d4d4d" stroke-width="0.3" >W1</text>
<text x="467.7" y="24" font-size="12" fill="#4d4d4d" textLength="18.8" lengthAdjust="spacingAndGlyphs" stroke="#4d4d4d" stroke-width="0.3" >MN</text>
<g stroke="#4a4a4a" stroke-width="1.4" fill="none" stroke-linecap="round" stroke-linejoin="round"><path d="M3.5,21.5 L14.5,11.6 M5,26.3 L21.5,13 M10.1,28 L22.4,17"/><path d="M7,27.6 L8.3,18.4 L11.4,23.2 L14.9,14.4 L16.3,22.3 L18.9,9.6 L20.6,18.4" stroke-width="1.5"/></g>
<text x="18" y="30.7" font-size="9.2" fill="#4a4a4a" textLength="5.4" lengthAdjust="spacingAndGlyphs" font-weight="bold" >E</text>
<rect x="39.7" y="10.2" width="1.1" height="1.8" fill="#5a5a5a" />
<rect x="42.3" y="10.2" width="1.1" height="1.8" fill="#5a5a5a" />
<rect x="44.9" y="10.2" width="1.1" height="1.8" fill="#5a5a5a" />
<rect x="47.5" y="10.2" width="1.1" height="1.8" fill="#5a5a5a" />
<rect x="50.1" y="10.2" width="1.1" height="1.8" fill="#5a5a5a" />
<rect x="52.7" y="10.2" width="1.1" height="1.8" fill="#5a5a5a" />
<rect x="55.3" y="10.2" width="1.1" height="1.8" fill="#5a5a5a" />
<rect x="39.7" y="14" width="1.1" height="1.8" fill="#5a5a5a" />
<rect x="42.3" y="14" width="1.1" height="1.8" fill="#5a5a5a" />
<rect x="44.9" y="14" width="1.1" height="1.8" fill="#5a5a5a" />
<rect x="47.5" y="14" width="1.1" height="1.8" fill="#5a5a5a" />
<rect x="50.1" y="14" width="1.1" height="1.8" fill="#5a5a5a" />
<rect x="52.7" y="14" width="1.1" height="1.8" fill="#5a5a5a" />
<rect x="55.3" y="14" width="1.1" height="1.8" fill="#5a5a5a" />
<rect x="39.7" y="19" width="1.1" height="1.8" fill="#5a5a5a" />
<rect x="42.3" y="19" width="1.1" height="1.8" fill="#5a5a5a" />
<rect x="44.9" y="19" width="1.1" height="1.8" fill="#5a5a5a" />
<rect x="47.5" y="19" width="1.1" height="1.8" fill="#5a5a5a" />
<rect x="50.1" y="19" width="1.1" height="1.8" fill="#5a5a5a" />
<rect x="52.7" y="19" width="1.1" height="1.8" fill="#5a5a5a" />
<rect x="55.3" y="19" width="1.1" height="1.8" fill="#5a5a5a" />
<rect x="39.7" y="24.1" width="1.1" height="1.8" fill="#5a5a5a" />
<rect x="42.3" y="24.1" width="1.1" height="1.8" fill="#5a5a5a" />
<rect x="44.9" y="24.1" width="1.1" height="1.8" fill="#5a5a5a" />
<rect x="47.5" y="24.1" width="1.1" height="1.8" fill="#5a5a5a" />
<rect x="50.1" y="24.1" width="1.1" height="1.8" fill="#5a5a5a" />
<text x="52" y="30.7" font-size="9.2" fill="#4a4a4a" textLength="5.2" lengthAdjust="spacingAndGlyphs" font-weight="bold" >F</text>
<text x="77" y="25.6" font-size="16" fill="#5c5c5c" textLength="10" lengthAdjust="spacingAndGlyphs" font-weight="bold" >A</text>
<rect x="109.5" y="12.5" width="14" height="15" fill="none" stroke="#4a4a4a" stroke-width="1" stroke-dasharray="1 1" shape-rendering="crispEdges"/>
<rect x="108.6" y="11.2" width="1.6" height="1.4" fill="#555" />
<text x="111.3" y="25.6" font-size="14.5" fill="#6a6a6a" textLength="10" lengthAdjust="spacingAndGlyphs" font-weight="bold" >T</text>
<polygon points="146,11.3 150.3,15.4 150.3,17.2 141.7,17.2 141.7,15.4" fill="#5a5a5a"/>
<polygon points="150.5,23.3 159.3,23.3 154.9,28" fill="#5a5a5a"/>
<path d="M144.4,21 L147.1,23.7 L152.8,16.8" fill="none" stroke="#5a5a5a" stroke-width="2"/>
<polygon points="164.7,17.9 172.4,17.9 168.55,22.2" fill="#000"/>
</svg></body></html>
